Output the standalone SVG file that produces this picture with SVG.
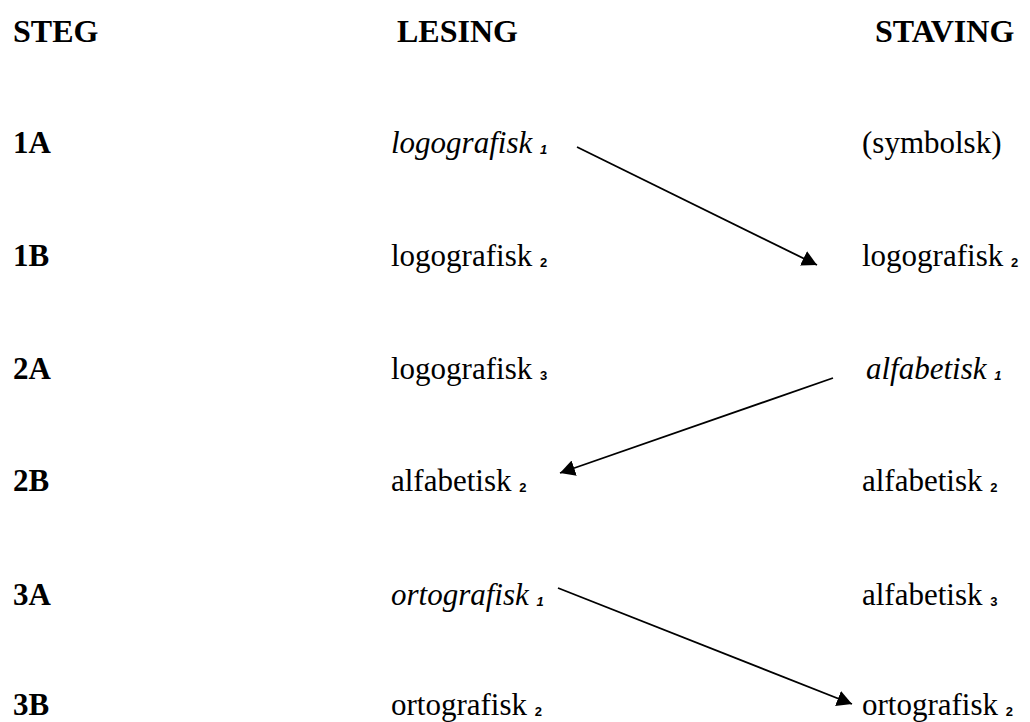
<svg xmlns="http://www.w3.org/2000/svg" width="1030" height="722" viewBox="0 0 1030 722">
<style>
.h{font-family:"Liberation Serif","Times New Roman",serif;font-size:32px;font-weight:bold;fill:#000}
.t{font-family:"Liberation Serif","Times New Roman",serif;font-size:31px;fill:#000}
.i{font-style:italic}
.s{font-family:"Liberation Sans","DejaVu Sans",sans-serif;font-size:13px;font-weight:bold}
.c{stroke:#000;stroke-width:1.8;fill:none}
</style>
<defs>
<marker id="ah" viewBox="0 0 15 16" refX="15" refY="8" markerWidth="15" markerHeight="16" markerUnits="userSpaceOnUse" orient="auto">
<path d="M0,0 L15,8 L0,16 Z" fill="#000"/>
</marker>
</defs>
<rect width="1030" height="722" fill="#fff"/>
<g id="headers">
<text class="h" x="13" y="42">STEG</text>
<text class="h" x="397" y="42">LESING</text>
<text class="h" x="875" y="42">STAVING</text>
</g>
<g id="steps">
<text class="h" x="13" y="153" style="font-size:31px">1A</text>
<text class="h" x="13" y="266" style="font-size:31px">1B</text>
<text class="h" x="13" y="379" style="font-size:31px">2A</text>
<text class="h" x="13" y="491" style="font-size:31px">2B</text>
<text class="h" x="13" y="605" style="font-size:31px">3A</text>
<text class="h" x="13" y="715" style="font-size:31px">3B</text>
</g>
<g id="lesing">
<g id="l1A"><text class="t i" x="391" y="153">logografisk <tspan class="s" dy="1">1</tspan></text></g>
<g id="l1B"><text class="t" x="391" y="266">logografisk <tspan class="s" dy="1">2</tspan></text></g>
<g id="l2A"><text class="t" x="391" y="379">logografisk <tspan class="s" dy="1">3</tspan></text></g>
<g id="l2B"><text class="t" x="391" y="491">alfabetisk <tspan class="s" dy="1">2</tspan></text></g>
<g id="l3A"><text class="t i" x="391" y="605">ortografisk <tspan class="s" dy="1">1</tspan></text></g>
<g id="l3B"><text class="t" x="391" y="715">ortografisk <tspan class="s" dy="1">2</tspan></text></g>
</g>
<g id="staving">
<g id="s1A"><text class="t" x="862" y="153">(symbolsk)</text></g>
<g id="s1B"><text class="t" x="862" y="266">logografisk <tspan class="s" dy="1">2</tspan></text></g>
<g id="s2A"><text class="t i" x="866" y="379">alfabetisk <tspan class="s" dy="1">1</tspan></text></g>
<g id="s2B"><text class="t" x="862" y="491">alfabetisk <tspan class="s" dy="1">2</tspan></text></g>
<g id="s3A"><text class="t" x="862" y="605">alfabetisk <tspan class="s" dy="1">3</tspan></text></g>
<g id="s3B"><text class="t" x="862" y="715">ortografisk <tspan class="s" dy="1">2</tspan></text></g>
</g>
<g id="connectors">
<line class="c" x1="577" y1="147" x2="817" y2="265" marker-end="url(#ah)"/>
<line class="c" x1="833" y1="378" x2="560" y2="473" marker-end="url(#ah)"/>
<line class="c" x1="558" y1="588" x2="852" y2="704" marker-end="url(#ah)"/>
</g>
</svg>
